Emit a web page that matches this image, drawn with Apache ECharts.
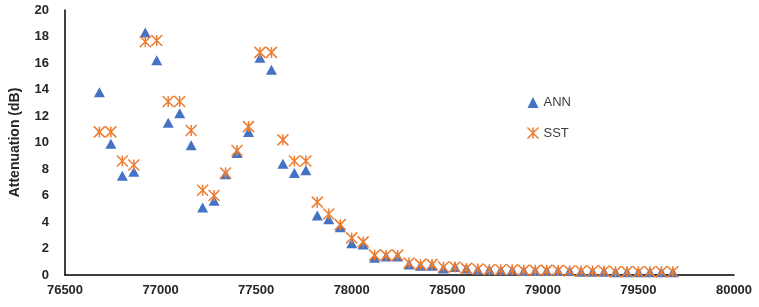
<!DOCTYPE html>
<html>
<head>
<meta charset="utf-8">
<script src="https://cdn.jsdelivr.net/npm/echarts@6/dist/echarts.min.js"></script>
<style>html,body{margin:0;padding:0;background:#fff}#c{width:759px;height:307px}</style>
</head>
<body>
<div id="c"></div>
<script>
var frequency = [76680,76740,76800,76860,76920,76980,77040,77100,77160,77220,77280,77340,77400,77460,77520,77580,77640,77700,77760,77820,77880,77940,78000,78060,78120,78180,78240,78300,78360,78420,78480,78540,78600,78660,78720,78780,78840,78900,78960,79020,79080,79140,79200,79260,79320,79380,79440,79500,79560,79620,79680];
var annValues = [13.8,9.9,7.5,7.8,18.3,16.2,11.5,12.2,9.8,5.1,5.6,7.6,9.2,10.8,16.4,15.5,8.4,7.7,7.9,4.5,4.2,3.6,2.4,2.3,1.3,1.4,1.4,0.8,0.7,0.7,0.5,0.6,0.5,0.4,0.4,0.35,0.35,0.3,0.3,0.3,0.3,0.3,0.25,0.25,0.25,0.2,0.2,0.2,0.2,0.2,0.2];
var sstValues = [10.8,10.8,8.6,8.3,17.6,17.7,13.1,13.1,10.9,6.4,6.0,7.7,9.4,11.2,16.8,16.8,10.2,8.6,8.6,5.5,4.6,3.8,2.8,2.5,1.5,1.5,1.5,0.9,0.8,0.8,0.6,0.6,0.5,0.45,0.4,0.4,0.4,0.35,0.35,0.35,0.35,0.3,0.3,0.3,0.3,0.25,0.25,0.25,0.25,0.25,0.25];
var xTicks = {min: 76500, max: 80000, interval: 500};
var yTicks = {min: 0, max: 20, interval: 2};
var seriesNames = ['ANN', 'SST'];

function pairs(xs, ys){ return xs.map(function(x,i){ return [x, ys[i]]; }); }
var star = 'path://M0,0L10,10M10,0L0,10M5,0L5,10';
var chart = echarts.init(document.getElementById('c'));
var lab = {color:'#262626', fontFamily:'Liberation Sans', fontWeight:'bold', fontSize:13};
chart.setOption({
  animation:false,
  grid:{left:63, right:25, top:10, bottom:32},
  legend:{
    orient:'vertical', left:520, top:91, itemGap:16, itemWidth:11, itemHeight:11,
    textStyle:{color:'#404040', fontFamily:'Liberation Sans', fontSize:13},
    data:[{name:seriesNames[0], icon:'triangle'},{name:seriesNames[1], icon:star, itemStyle:{color:'none', borderColor:'#ED7D31', borderWidth:1.5}}]
  },
  xAxis:{type:'value', min:xTicks.min, max:xTicks.max, interval:xTicks.interval,
    axisLine:{show:true, lineStyle:{color:'#000', width:1.5}}, axisTick:{show:false}, splitLine:{show:false},
    axisLabel:Object.assign({margin:9, formatter:function(v){return String(v);}}, lab)},
  yAxis:{type:'value', min:yTicks.min, max:yTicks.max, interval:yTicks.interval,
    name:'Attenuation (dB)', nameLocation:'middle', nameGap:43, nameRotate:90,
    nameTextStyle:{color:'#262626', fontFamily:'Liberation Sans', fontWeight:'bold', fontSize:14},
    axisLine:{show:true, lineStyle:{color:'#000', width:1.5}}, axisTick:{show:false}, splitLine:{show:false},
    axisLabel:Object.assign({margin:16}, lab)},
  series:[
    {name:seriesNames[0], type:'scatter', symbol:'triangle', symbolSize:[11,10], data:pairs(frequency, annValues),
     itemStyle:{color:'#4472C4', opacity:1}},
    {name:seriesNames[1], type:'scatter', symbol:star, symbolSize:11, data:pairs(frequency, sstValues),
     itemStyle:{color:'none', borderColor:'#ED7D31', borderWidth:1.5, opacity:1}}
  ]
});
</script>
</body>
</html>
